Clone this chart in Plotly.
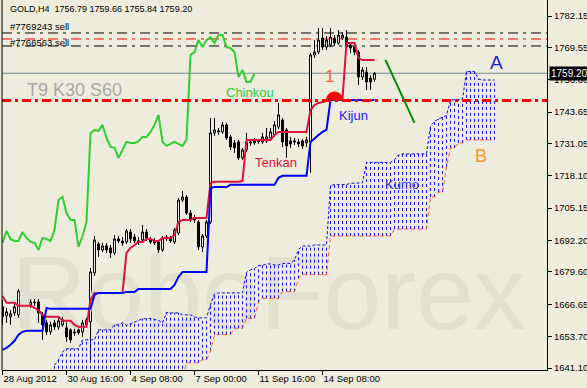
import plotly.graph_objects as go

# ---------------- data ----------------
bars = list(range(94))
opens = [1665.6,1662.0,1661.6,1663.2,1662.4,1671.6,1667.2,1666.4,1667.2,1667.6,
         1662.4,1659.2,1655.6,1659.2,1657.6,1658.4,1657.2,1656.4,1655.6,1656.4,
         1655.6,1658.4,1659.6,1679.2,1690.8,1688.4,1690.0,1689.2,1687.2,1692.8,
         1692.0,1691.6,1695.6,1693.6,1691.6,1692.4,1695.6,1692.4,1692.0,1691.6,
         1688.4,1693.6,1693.2,1691.6,1695.2,1708.4,1709.6,1703.2,1701.2,1699.6,
         1689.6,1694.0,1699.6,1735.3,1735.7,1735.7,1738.5,1733.7,1731.3,1731.7,
         1725.3,1728.5,1731.7,1732.1,1731.7,1731.7,1732.1,1733.3,1734.5,1737.7,
         1740.5,1736.5,1732.1,1732.1,1731.7,1732.1,1731.3,1731.7,1766.5,1767.7,
         1773.3,1769.7,1770.5,1773.3,1771.3,1773.3,1773.7,1770.5,1769.7,1767.7,
         1757.7,1759.7,1757.3,1756.79]
highs = [1668.4,1665.2,1664.4,1667.2,1672.8,1672.4,1668.4,1669.2,1668.8,1669.2,
         1663.6,1660.4,1659.6,1660.4,1661.2,1661.6,1661.2,1657.6,1656.8,1657.6,
         1660.4,1661.2,1681.2,1694.0,1691.6,1691.2,1691.2,1690.4,1694.4,1694.0,
         1693.6,1696.8,1696.8,1694.8,1693.6,1698.4,1696.8,1693.6,1693.2,1692.4,
         1694.0,1694.4,1694.0,1697.2,1709.2,1712.0,1710.4,1704.4,1702.4,1700.4,
         1694.8,1700.4,1741.3,1741.3,1737.3,1739.7,1739.3,1734.5,1732.5,1732.5,
         1729.3,1735.3,1732.9,1733.3,1732.9,1735.3,1737.3,1737.3,1740.1,1747.3,
         1741.3,1737.3,1733.7,1733.3,1732.9,1732.9,1733.7,1767.3,1772.5,1777.3,
         1777.3,1774.1,1777.3,1774.5,1776.5,1775.7,1776.5,1771.7,1770.5,1768.5,
         1761.7,1761.7,1758.5,1759.66]
lows = [1658.4,1659.2,1658.4,1662.0,1661.2,1665.2,1665.6,1665.2,1666.0,1659.2,
        1652.4,1654.4,1654.4,1656.4,1656.4,1657.6,1651.6,1651.2,1654.0,1654.4,
        1653.6,1657.6,1644.3,1678.0,1685.6,1687.6,1687.2,1685.2,1686.4,1691.2,
        1690.0,1690.8,1691.2,1691.2,1690.4,1691.2,1692.0,1690.8,1690.4,1687.2,
        1687.6,1692.0,1691.2,1690.8,1694.4,1707.6,1702.4,1699.6,1699.2,1688.4,
        1687.6,1693.2,1698.8,1734.1,1734.5,1734.9,1732.5,1728.5,1727.3,1724.5,
        1724.5,1727.7,1730.1,1730.5,1730.9,1730.9,1731.3,1732.5,1733.7,1736.9,
        1729.7,1725.3,1729.3,1730.5,1729.7,1728.9,1729.7,1719.3,1765.3,1766.9,
        1768.5,1768.5,1769.7,1770.1,1770.5,1772.5,1768.9,1767.3,1766.5,1754.5,
        1756.5,1752.5,1752.5,1755.84]
closes = [1661.6,1663.6,1662.8,1665.6,1672.0,1666.4,1666.8,1667.6,1667.4,1663.2,
          1658.4,1655.6,1658.4,1657.6,1660.0,1660.4,1653.6,1652.4,1655.2,1655.2,
          1659.2,1660.4,1679.6,1692.4,1688.4,1690.0,1688.4,1687.2,1692.8,1692.0,
          1691.2,1696.0,1692.8,1692.0,1692.0,1695.6,1693.2,1691.6,1691.2,1688.4,
          1693.2,1692.8,1692.0,1696.4,1708.4,1709.6,1703.2,1700.4,1700.4,1689.6,
          1694.0,1699.6,1735.3,1736.5,1736.1,1738.5,1733.3,1729.7,1729.3,1725.3,
          1728.5,1731.7,1731.3,1731.3,1731.9,1733.7,1733.7,1735.7,1738.5,1742.5,
          1731.7,1730.1,1730.9,1731.7,1730.9,1730.1,1732.5,1766.5,1767.7,1772.5,
          1769.7,1772.5,1773.7,1771.3,1774.5,1774.5,1769.7,1769.3,1767.7,1757.7,
          1760.5,1755.7,1755.7,1759.20]

tenkan = [1670.0,1667.2,1667.2,1667.2,1666.0,1666.0,1666.0,1666.0,1665.2,1664.4,
          1662.4,1661.6,1661.6,1661.6,1661.6,1660.0,1660.0,1660.0,1658.4,1657.6,
          1657.6,1657.6,1668.4,1671.2,1671.2,1671.2,1671.2,1671.2,1671.2,1671.2,
          1671.2,1687.2,1689.2,1690.4,1691.6,1691.6,1692.8,1692.8,1692.0,1692.0,
          1693.2,1693.2,1693.2,1694.4,1699.6,1700.4,1700.4,1700.4,1701.2,1701.2,
          1701.2,1701.2,1715.3,1715.7,1715.7,1715.7,1715.7,1715.7,1715.7,1715.7,
          1716.1,1732.5,1732.5,1732.5,1732.5,1732.5,1732.5,1732.5,1734.5,1735.7,
          1735.7,1735.7,1735.7,1735.7,1735.7,1735.7,1735.7,1744.5,1746.5,1747.3,
          1747.7,1748.1,1748.5,1748.5,1748.9,1748.9,1771.3,1771.3,1771.3,1765.3,
          1764.5,1764.5,1764.5,1764.5]
kijun = [1648.4,1649.2,1650.4,1652.0,1654.4,1655.6,1656.0,1656.0,1656.0,1656.0,
         1656.0,1665.2,1664.8,1664.8,1664.8,1664.8,1664.8,1664.8,1664.8,1664.8,
         1664.8,1664.8,1664.8,1670.4,1671.2,1671.2,1671.2,1671.2,1671.2,1671.2,
         1671.2,1671.6,1671.6,1671.6,1672.8,1672.8,1672.8,1672.8,1672.8,1672.8,
         1672.8,1672.8,1672.8,1674.4,1677.6,1679.6,1679.6,1679.6,1679.6,1679.6,
         1679.6,1679.6,1713.2,1713.6,1713.6,1713.6,1713.6,1714.5,1714.5,1714.5,
         1714.5,1714.5,1714.5,1714.5,1714.5,1714.5,1714.5,1714.5,1714.5,1717.3,
         1718.1,1718.1,1718.1,1718.1,1718.1,1718.1,1718.1,1731.7,1733.3,1734.5,
         1735.7,1736.5,1748.5,1748.5,1748.5,1748.5,1748.5,1748.5,1748.5,1748.5,
         1748.5,1748.5,1748.5,1748.5]
chinkou_shift = 30

# Senkou spans, bars 13 .. 123 (already shifted 30 bars forward)
span_start = 13
span_a = [1642.3,1644.3,1647.6,1648.8,1648.8,1648.8,1648.8,1652.4,1652.4,1652.4,
          1652.4,1656.4,1656.4,1656.4,1656.4,1658.4,1658.4,
          1659.2,1658.2,1658.8,1659.6,1660.2,1660.8,1661.0,1661.0,1660.6,1660.2,
          1659.2,1663.4,1663.2,1663.2,1663.2,1662.4,1662.4,1662.4,1661.6,1661.2,
          1661.2,1661.2,1666.6,1670.8,1671.2,1671.2,1671.2,1671.2,1671.2,1671.2,
          1671.2,1679.4,1680.4,1681.0,1682.2,1682.2,1682.8,1682.8,1682.4,1682.4,
          1683.0,1683.0,1683.0,1684.4,1688.6,1690.0,1690.0,1690.0,1690.4,1690.4,
          1690.4,1690.4,1714.2,1714.6,1714.6,1714.6,1714.6,1715.1,1715.1,1715.1,
          1715.3,1723.5,1723.5,1723.5,1723.5,1723.5,1723.5,1723.5,1724.5,1726.5,
          1726.9,1726.9,1726.9,1726.9,1726.9,1726.9,1726.9,1738.1,1739.9,1740.9,
          1741.7,1742.3,1748.5,1748.5,1748.7,1748.7,1759.9,1759.9,1759.9,1756.9,
          1756.5,1756.5,1756.5,1756.5]
span_b = [1636.0,1636.0,1636.0,1636.0,1636.0,1636.0,1636.0,1636.0,1636.0,1636.0,
          1636.0,1636.0,1636.0,1636.0,1636.0,1636.0,1636.0,1636.0,1636.0,1636.0,
          1636.0,1636.0,1636.0,1636.0,1636.0,1636.0,1636.0,1636.0,1636.0,1636.0,
          1636.0,1636.0,1636.0,
          1643.2,1643.2,1643.2,1643.2,1644.4,1644.4,1648.0,
          1654.5,1654.5,1654.5,1654.5,1654.5,1657.0,1657.0,1657.0,
          1661.0,1661.0,1661.0,1667.4,
          1669.0,1669.0,1669.0,1669.0,1669.0,1671.7,1671.7,1671.7,1671.7,
          1677.0,1678.5,1678.5,1678.5,1678.5,1678.5,1678.5,1678.5,
          1694.0,1694.0,1694.0,1694.0,1694.0,1694.0,1694.0,1694.0,
          1694.0,1694.0,1694.0,1694.0,1694.0,1694.0,1694.0,1694.0,
          1696.8,1696.8,1696.8,1696.8,1696.8,1696.8,1696.8,1696.8,1696.8,
          1709.6,1709.6,1711.6,1711.6,1721.7,1729.3,1729.3,1731.3,1731.3,
          1732.5,1732.5,1732.5,1732.5,1732.5,1732.5,1732.5,1732.5]

tick_bars = [0, 16, 32, 48, 64, 80]
tick_dates = ["28 Aug 2012", "30 Aug 16:00", "4 Sep 08:00", "7 Sep 00:00",
              "11 Sep 16:00", "14 Sep 08:00"]
price_ticks = [1641.10, 1653.70, 1666.65, 1679.60, 1692.20, 1705.15,
               1718.10, 1731.05, 1743.65, 1756.60, 1769.55, 1782.15]

header = "GOLD,H4  1756.79 1759.66 1755.84 1759.20"
bid = 1759.20
order_lines = [(1775.34, "black"), (1772.94, "red"), (1770.13, "black")]
order_labels = [("#7769243 sell", 1778.1), ("#7766563 sell", 1771.7)]
kijun_level = 1748.3
trend = [(95.75, 1764.5), (103.0, 1739.3)]
signal_point = (83, 1748.5)

# ---------------- figure ----------------
BG = "#EEECDC"
FONT = "Liberation Sans, Arial, sans-serif"
fig = go.Figure()

# watermark
fig.add_trace(go.Scatter(x=[66.5], y=[1667], mode="text", text=["RoboForex"],
                         textfont=dict(size=104, color="#E2E0D1", family=FONT),
                         hoverinfo="skip", showlegend=False))

# kumo hatch
span_x = list(range(span_start, span_start + len(span_a)))
hx, hy = [], []
for x, a, b in zip(span_x, span_a, span_b):
    hx += [x, x, None]
    hy += [b, a, None]
fig.add_trace(go.Scatter(x=hx, y=hy, mode="lines",
                         line=dict(color="#1414C8", width=1, dash="3px,3px"),
                         hoverinfo="skip", showlegend=False))
fig.add_trace(go.Scatter(x=span_x, y=span_b, mode="lines",
                         line=dict(color="#FF5A1E", width=1, dash="4px,3px"),
                         hoverinfo="skip", showlegend=False))
fig.add_trace(go.Scatter(x=span_x, y=span_a, mode="lines",
                         line=dict(color="#1414C8", width=1, dash="3px,2px"),
                         hoverinfo="skip", showlegend=False))

# candles
fig.add_trace(go.Candlestick(x=bars, open=opens, high=highs, low=lows, close=closes,
                             increasing=dict(fillcolor="white", line=dict(color="black", width=1)),
                             decreasing=dict(fillcolor="black", line=dict(color="black", width=1)),
                             whiskerwidth=0, hoverinfo="skip", showlegend=False))

# chinkou, tenkan, kijun
ch_x = bars[:len(bars) - chinkou_shift]
ch_y = closes[chinkou_shift:]
fig.add_trace(go.Scatter(x=ch_x, y=ch_y, mode="lines",
                         line=dict(color="#32CD32", width=2), hoverinfo="skip", showlegend=False))
fig.add_trace(go.Scatter(x=bars, y=tenkan, mode="lines",
                         line=dict(color="#DC143C", width=2), hoverinfo="skip", showlegend=False))
fig.add_trace(go.Scatter(x=bars, y=kijun, mode="lines",
                         line=dict(color="#0000FF", width=2), hoverinfo="skip", showlegend=False))

shapes = []
for lvl, col in order_lines:
    shapes.append(dict(type="line", xref="paper", x0=0, x1=1, yref="y", y0=lvl, y1=lvl,
                       line=dict(color=col, width=1, dash="10px,5px,3px,5px"), layer="below"))
shapes.append(dict(type="line", xref="paper", x0=0, x1=1, yref="y", y0=bid, y1=bid,
                   line=dict(color="#7A8A9A", width=1), layer="below"))
shapes.append(dict(type="line", xref="paper", x0=0, x1=1, yref="y", y0=kijun_level, y1=kijun_level,
                   line=dict(color="#FF0000", width=3, dash="9px,4px,3px,4px"), layer="above"))
shapes.append(dict(type="line", xref="x", yref="y", x0=trend[0][0], y0=trend[0][1],
                   x1=trend[1][0], y1=trend[1][1], line=dict(color="#0A8A0A", width=2)))
r, k = 8, 4.4
shapes.append(dict(type="path", xref="x", yref="y", xsizemode="pixel", ysizemode="pixel",
                   xanchor=signal_point[0], yanchor=signal_point[1],
                   path=f"M {-r},0 C {-r},{k} {-k},{r} 0,{r} C {k},{r} {r},{k} {r},0 Z",
                   fillcolor="#FF0000", line=dict(color="#FF0000", width=1)))
shapes.append(dict(type="line", xref="paper", x0=0, x1=0, yref="paper", y0=0, y1=1,
                   line=dict(color="black", width=1)))

ann = []
def txt(x, y, s, size, color, anchor="left"):
    ann.append(dict(x=x, y=y, xref="x", yref="y", text=s, showarrow=False,
                    xanchor=anchor, yanchor="middle",
                    font=dict(size=size, color=color, family=FONT)))

txt(1.25, 1784.95, header, 9, "black")
for s, yv in order_labels:
    txt(1.25, yv, s, 9.5, "black")
txt(5.5, 1752.5, "T9 K30 S60", 18, "#A8A8A8")
txt(55.25, 1751.3, "Chinkou", 13, "#32CD32")
txt(62.5, 1723.3, "Tenkan", 13, "#DC143C")
txt(83.5, 1742.1, "Kijun", 13, "#1A1AE6")
txt(95.0, 1714.5, "Kumo", 13, "#3A32CC")
txt(121.25, 1763.7, "A", 19, "#2020DD")
txt(117.5, 1726.1, "B", 18, "#FF9326")
txt(80.0, 1758.1, "1", 17, "#EE6633")
ann.append(dict(x=1, xref="paper", y=bid, yref="y", text=f"{bid:.2f}", showarrow=False,
                xanchor="left", yanchor="middle", xshift=2, bgcolor="black",
                font=dict(size=10, color="white", family=FONT), borderpad=1))

fig.update_layout(
    width=587, height=388,
    margin=dict(l=2, r=40, t=0, b=18),
    paper_bgcolor=BG, plot_bgcolor=BG,
    showlegend=False,
    shapes=shapes, annotations=ann,
    xaxis=dict(range=[-0.125, 136.125], showgrid=False, zeroline=False,
               rangeslider=dict(visible=False), automargin=False,
               showline=True, linecolor="black", linewidth=1,
               ticks="outside", ticklen=4, tickcolor="black", tickangle=0,
               tickvals=tick_bars, ticktext=tick_dates,
               ticklabelposition="outside right",
               tickfont=dict(size=9.5, color="black", family=FONT)),
    yaxis=dict(range=[1640.30, 1788.56], side="right", showgrid=False, zeroline=False,
               automargin=False,
               showline=True, linecolor="black", linewidth=1,
               ticks="outside", ticklen=4, tickcolor="black",
               tickvals=price_ticks, ticktext=[f"{v:.2f}" for v in price_ticks],
               tickfont=dict(size=9.5, color="black", family=FONT)),
)

fig.write_html("out.html")
